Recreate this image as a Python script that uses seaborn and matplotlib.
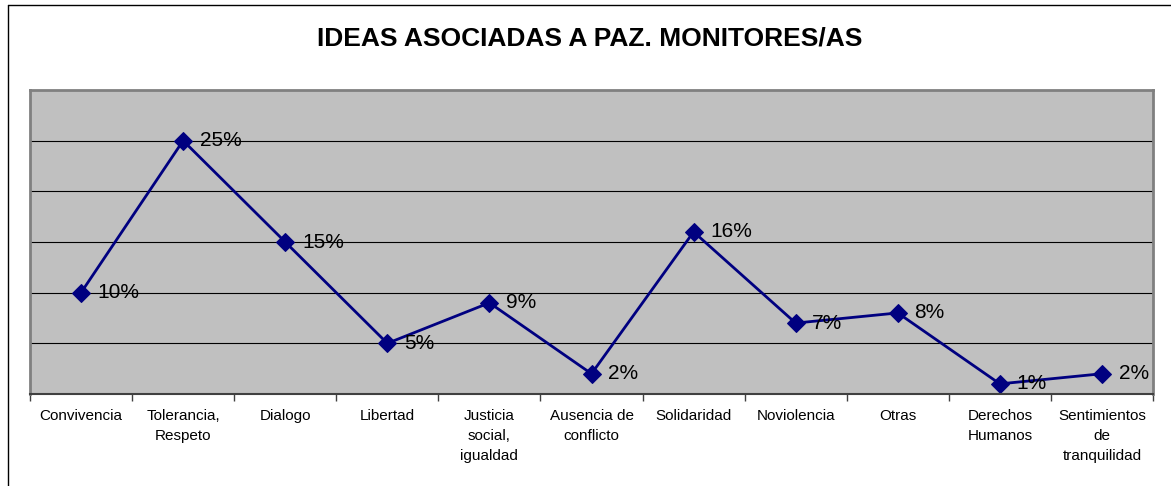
import numpy as np
import pandas as pd
import seaborn as sns
import matplotlib.pyplot as plt
from matplotlib.lines import Line2D

categories = ["Convivencia", "Tolerancia,\nRespeto", "Dialogo", "Libertad",
              "Justicia\nsocial,\nigualdad", "Ausencia de\nconflicto",
              "Solidaridad", "Noviolencia", "Otras", "Derechos\nHumanos",
              "Sentimientos\nde\ntranquilidad"]
values = [10, 25, 15, 5, 9, 2, 16, 7, 8, 1, 2]

df = pd.DataFrame({"idea": categories, "pct": values})

sns.set_style("white")
plt.rcParams["font.family"] = ["Liberation Sans", "DejaVu Sans"]
plt.rcParams["text.color"] = "black"
plt.rcParams["xtick.color"] = "black"

fig = plt.figure(figsize=(11.71, 4.86), dpi=100)
ax = fig.add_axes([30 / 1171, 1 - 394 / 486, 1123 / 1171, 304 / 486])
ax.set_facecolor("#c0c0c0")

sns.lineplot(data=df, x="idea", y="pct", sort=False, ax=ax, color="#000080",
             linewidth=2, marker="D", markersize=9, markeredgecolor="#000080")

for i, v in enumerate(values):
    ax.annotate("{}%".format(v), (i, v), xytext=(12, 0),
                textcoords="offset points", va="center", ha="left",
                fontsize=15, color="black")

ax.set_xlim(-0.5, len(categories) - 0.5)
ax.set_ylim(0, 30)
ax.set_yticks([])
for y in [5, 10, 15, 20, 25]:
    ax.axhline(y, color="black", linewidth=0.8, zorder=0)

ax.set_xticks(range(len(categories)))
ax.set_xticklabels(categories, fontsize=11, linespacing=1.55, va="top",
                   color="black")
ax.tick_params(axis="x", which="major", length=0, pad=11)
ax.set_xticks(np.arange(-0.5, len(categories)), minor=True)
ax.tick_params(axis="x", which="minor", length=5, width=1, color="#404040",
               direction="out", bottom=True)
ax.set_xlabel("")
ax.set_ylabel("")

for side in ["left", "top", "right"]:
    ax.spines[side].set_color("#808080")
    ax.spines[side].set_linewidth(2)
ax.spines["bottom"].set_color("#404040")
ax.spines["bottom"].set_linewidth(1.5)

fig.text(590 / 1171, 1 - 38 / 486, "IDEAS ASOCIADAS A PAZ. MONITORES/AS",
         ha="center", va="center", fontsize=19, fontweight="bold",
         color="black")

# outer chart border (left and top visible)
fig.add_artist(Line2D([8 / 1171, 8 / 1171], [0, 1 - 5 / 486],
                      transform=fig.transFigure, color="black", linewidth=1))
fig.add_artist(Line2D([8 / 1171, 1], [1 - 5 / 486, 1 - 5 / 486],
                      transform=fig.transFigure, color="black", linewidth=1))

fig.savefig("out.png", dpi=100)
